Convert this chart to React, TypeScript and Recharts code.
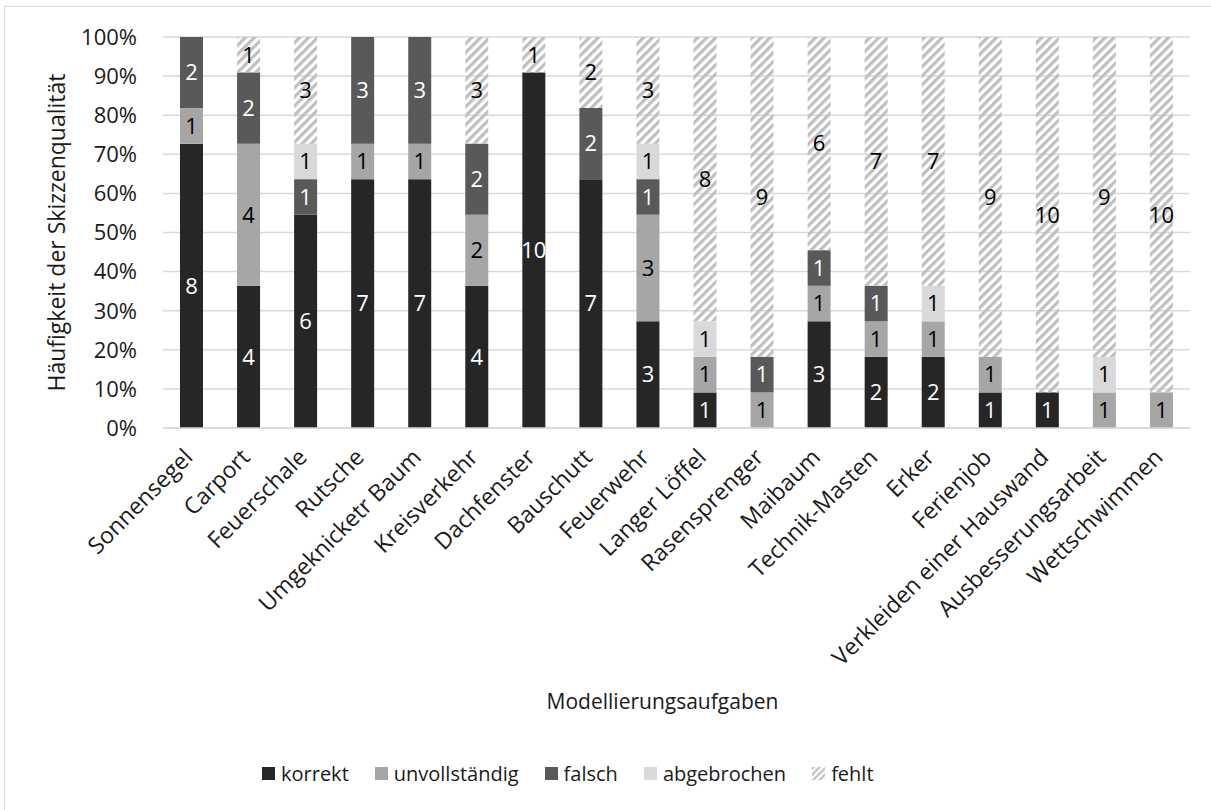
import React from 'react';
import { BarChart, Bar, XAxis, YAxis, CartesianGrid, Legend, LabelList, Label } from 'recharts';

const FONT = '"Open Sans", "Noto Sans", sans-serif';
const TEXT = '#1a1a1a';

// Modelling tasks (x categories)
const categories = [
  'Sonnensegel', 'Carport', 'Feuerschale', 'Rutsche', 'Umgeknicketr Baum', 'Kreisverkehr',
  'Dachfenster', 'Bauschutt', 'Feuerwehr', 'Langer Löffel', 'Rasensprenger', 'Maibaum',
  'Technik-Masten', 'Erker', 'Ferienjob', 'Verkleiden einer Hauswand', 'Ausbesserungsarbeit',
  'Wettschwimmen',
];

// Number of sketches per quality class, one entry per task
const korrekt = [8, 4, 6, 7, 7, 4, 10, 7, 3, 1, 0, 3, 2, 2, 1, 1, 0, 0];
const unvollstaendig = [1, 4, 0, 1, 1, 2, 0, 0, 3, 1, 1, 1, 1, 1, 1, 0, 1, 1];
const falsch = [2, 2, 1, 3, 3, 2, 0, 2, 1, 0, 1, 1, 1, 0, 0, 0, 0, 0];
const abgebrochen = [0, 0, 1, 0, 0, 0, 0, 0, 1, 1, 0, 0, 0, 1, 0, 0, 1, 0];
const fehlt = [0, 1, 3, 0, 0, 3, 1, 2, 3, 8, 9, 6, 7, 7, 9, 10, 9, 10];

const yTicks = [0, 0.1, 0.2, 0.3, 0.4, 0.5, 0.6, 0.7, 0.8, 0.9, 1];

const series = [
  { key: 'korrekt', name: 'korrekt', fill: '#262626', labelColor: '#ffffff' },
  { key: 'unvollstaendig', name: 'unvollständig', fill: '#a6a6a6', labelColor: '#000000' },
  { key: 'falsch', name: 'falsch', fill: '#595959', labelColor: '#ffffff' },
  { key: 'abgebrochen', name: 'abgebrochen', fill: '#d9d9d9', labelColor: '#000000' },
  { key: 'fehlt', name: 'fehlt', fill: 'url(#fehltHatch)', labelColor: '#000000' },
];

const data = categories.map((name, i) => ({
  name,
  korrekt: korrekt[i],
  unvollstaendig: unvollstaendig[i],
  falsch: falsch[i],
  abgebrochen: abgebrochen[i],
  fehlt: fehlt[i],
}));

const CategoryTick = (props: any) => {
  const { x, y, payload } = props;
  return (
    <g transform={`translate(${x - 3},${y + 25})`}>
      <text
        textAnchor="end"
        transform="rotate(-45)"
        dy="0.35em"
        fill={TEXT}
        fontSize={23}
        fontFamily={FONT}
      >
        {payload.value}
      </text>
    </g>
  );
};

const LegendIcon = ({ fill }: { fill: string }) => (
  <svg width={13} height={13} style={{ marginRight: 6, display: 'block' }}>
    <defs>
      <pattern
        id="fehltHatchLegend"
        patternUnits="userSpaceOnUse"
        width="4.5"
        height="4.5"
        patternTransform="rotate(45)"
      >
        <rect x="0" y="0" width="2.2" height="4.5" fill="#bfbfbf" />
      </pattern>
    </defs>
    <rect
      x={0}
      y={0}
      width={13}
      height={13}
      fill={fill === 'url(#fehltHatch)' ? 'url(#fehltHatchLegend)' : fill}
    />
  </svg>
);

const renderLegend = () => (
  <div
    style={{
      display: 'flex',
      alignItems: 'center',
      fontFamily: FONT,
      fontSize: 20,
      color: TEXT,
      whiteSpace: 'nowrap',
    }}
  >
    {series.map((s) => (
      <div key={s.key} style={{ display: 'flex', alignItems: 'center', marginRight: 26 }}>
        <LegendIcon fill={s.fill} />
        <span>{s.name}</span>
      </div>
    ))}
  </div>
);

const hideZero = (v: any) => (v ? v : '');

export default function App() {
  return (
    <div
      style={{
        position: 'absolute',
        left: 0,
        top: 0,
        width: 1211,
        height: 810,
        overflow: 'hidden',
        background: '#ffffff',
      }}
    >
      <div
        style={{
          position: 'absolute',
          left: 4,
          top: 6,
          width: 1240,
          height: 840,
          border: '1px solid #d9d9d9',
          boxSizing: 'border-box',
        }}
      />
      <div style={{ position: 'absolute', left: 0, top: 0 }}>
        <BarChart
          width={1211}
          height={810}
          data={data}
          stackOffset="expand"
          margin={{ top: 37, right: 21, bottom: 0, left: 0 }}
          style={{ fontFamily: FONT }}
        >
          <defs>
            <pattern
              id="fehltHatch"
              patternUnits="userSpaceOnUse"
              width="6.4"
              height="6.4"
              patternTransform="rotate(45)"
            >
              <rect x="0" y="0" width="3.2" height="6.4" fill="#bfbfbf" />
            </pattern>
          </defs>
          <CartesianGrid vertical={false} stroke="#d9d9d9" strokeWidth={1.5} />
          <XAxis
            dataKey="name"
            height={382}
            interval={0}
            tickLine={false}
            tickSize={0}
            tickMargin={0}
            axisLine={{ stroke: '#d9d9d9', strokeWidth: 1.5 }}
            tick={<CategoryTick />}
          >
            <Label
              value="Modellierungsaufgaben"
              position="insideTop"
              offset={266}
              dx={-14}
              fill={TEXT}
              fontSize={21}
              fontFamily={FONT}
            />
          </XAxis>
          <YAxis
            width={163}
            domain={[0, 1]}
            ticks={yTicks}
            tickFormatter={(v: number) => `${Math.round(v * 100)}%`}
            axisLine={false}
            tickLine={false}
            tickSize={6}
            tickMargin={20}
            tick={{ fill: TEXT, fontSize: 22, fontFamily: FONT }}
          >
            <Label
              value="Häufigkeit der Skizzenqualität"
              angle={-90}
              position="center"
              dx={-25}
              fill={TEXT}
              fontSize={23}
              fontFamily={FONT}
            />
          </YAxis>
          <Legend
            verticalAlign="middle"
            align="center"
            layout="horizontal"
            content={renderLegend}
            wrapperStyle={{ top: 760, left: 262, width: 700 }}
          />
          {series.map((s) => (
            <Bar
              key={s.key}
              dataKey={s.key}
              name={s.name}
              stackId="q"
              fill={s.fill}
              barSize={23}
              isAnimationActive={false}
            >
              <LabelList
                dataKey={s.key}
                position="center"
                formatter={hideZero}
                fill={s.labelColor}
                fontSize={22}
                fontFamily={FONT}
              />
            </Bar>
          ))}
        </BarChart>
      </div>
    </div>
  );
}
